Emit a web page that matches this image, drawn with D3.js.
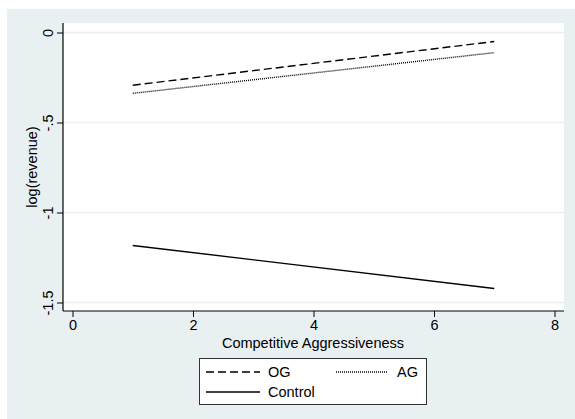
<!DOCTYPE html>
<html><head><meta charset="utf-8">
<script src="https://cdn.jsdelivr.net/npm/d3@7"></script>
<style>body{margin:0;background:#fff}svg{display:block}text{font-family:"Liberation Sans",Arial,sans-serif;fill:#000}</style>
</head><body><svg id="c" width="575" height="419"></svg>
<script>
const xTicks=[0,2,4,6,8];
const yTicks=[0,-0.5,-1,-1.5];
const yTickLabels=["0","-.5","-1","-1.5"];
const seriesNames=["OG","AG","Control"];
const xVals=[1,7];
const ogVals=[-0.293,-0.05];
const agVals=[-0.338,-0.112];
const controlVals=[-1.183,-1.422];
const dashes=["8,4","1,1",null];
const FS="14.5px";

const svg=d3.select("#c");
svg.append("rect").attr("x",7).attr("y",9).attr("width",568).attr("height",410).attr("fill","#e9f0f2");
const L=63,R=564,T=23,B=311;
svg.append("rect").attr("x",L).attr("y",T).attr("width",R-L).attr("height",B-T).attr("fill","#fff");
const x=d3.scaleLinear().domain([0,8]).range([72.5,554.5]);
const y=d3.scaleLinear().domain([0,-1.5]).range([32.5,302.5]);
// gridlines
svg.append("g").selectAll("line").data(yTicks).join("line")
 .attr("x1",L).attr("x2",R).attr("y1",d=>y(d)).attr("y2",d=>y(d))
 .attr("stroke","#e9f0f2").attr("stroke-width",1.5);
// axes
const ya=svg.append("g").attr("transform",`translate(${L},0)`)
 .call(d3.axisLeft(y).tickValues(yTicks).tickSize(6).tickFormat((d,i)=>yTickLabels[i]));
ya.select(".domain").attr("d",`M0,${T}V${B}`).attr("stroke","#000");
ya.selectAll(".tick text").attr("transform","rotate(-90)").attr("x",0).attr("y",-10).attr("dy","0").attr("text-anchor","middle").style("font-size",FS);
const xa=svg.append("g").attr("transform",`translate(0,${B})`)
 .call(d3.axisBottom(x).tickValues(xTicks).tickSize(6).tickFormat(d3.format("d")));
xa.select(".domain").attr("d",`M${L},0H${R}`).attr("stroke","#000");
xa.selectAll(".tick text").attr("y",9).style("font-size",FS);
svg.selectAll(".tick line").attr("stroke","#000");
svg.selectAll(".domain").attr("stroke-width",1.2);
// axis titles
svg.append("text").attr("x",313).attr("y",348).attr("text-anchor","middle").style("font-size",FS).text("Competitive Aggressiveness");
svg.append("text").attr("transform","translate(37,167) rotate(-90)").attr("text-anchor","middle").style("font-size",FS).text("log(revenue)");
// lines
const line=d3.line().x((d,i)=>x(xVals[i])).y(d=>y(d));
[ogVals,agVals,controlVals].forEach((vals,i)=>{
 svg.append("path").attr("d",line(vals)).attr("fill","none").attr("stroke","#000")
  .attr("stroke-width",i===1?1.4:1.4).attr("stroke-dasharray",dashes[i]);
});
// legend
svg.append("rect").attr("x",199.5).attr("y",358.5).attr("width",227).attr("height",46).attr("fill","#fff").attr("stroke","#333").attr("stroke-width",1);
const leg=[{x:206,y:372,i:0},{x:336,y:372,i:1},{x:206,y:392,i:2}];
leg.forEach(o=>{
 const w=o.i===1?52:54;
 svg.append("line").attr("x1",o.x).attr("x2",o.x+w).attr("y1",o.y).attr("y2",o.y).attr("stroke","#000")
  .attr("stroke-width",1.3).attr("stroke-dasharray",dashes[o.i]);
 svg.append("text").attr("x",o.x+w+(o.i===1?9:8)).attr("y",o.y+5).style("font-size",FS).text(seriesNames[o.i]);
});
</script></body></html>
